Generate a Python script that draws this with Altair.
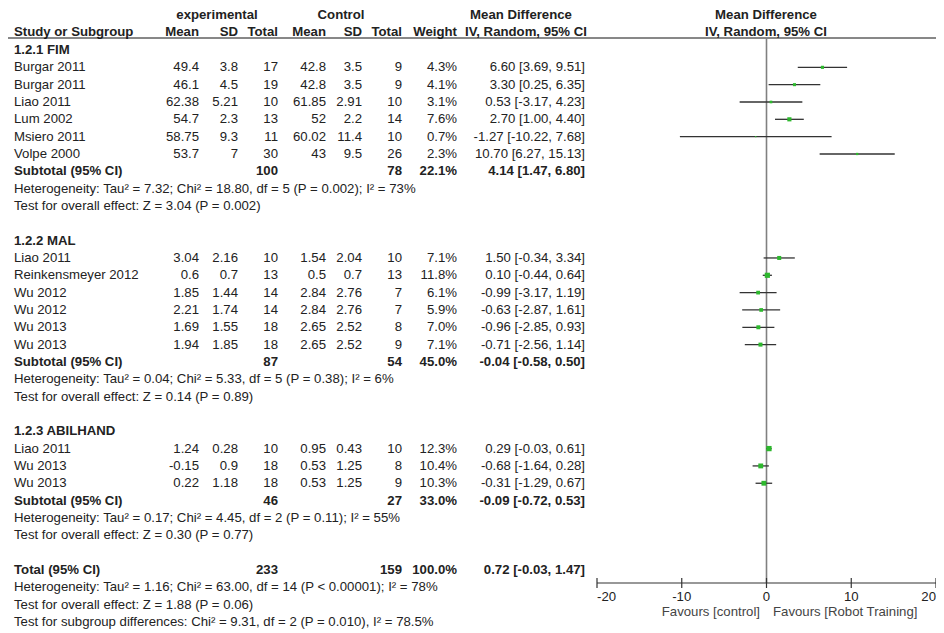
import altair as alt
import pandas as pd

# ---------------- data ----------------
group_names = ["1.2.1 FIM", "1.2.2 MAL", "1.2.3 ABILHAND"]

study_names = [
    ["Burgar 2011", "Burgar 2011", "Liao 2011", "Lum 2002", "Msiero 2011", "Volpe 2000"],
    ["Liao 2011", "Reinkensmeyer 2012", "Wu 2012", "Wu 2012", "Wu 2013", "Wu 2013"],
    ["Liao 2011", "Wu 2013", "Wu 2013"],
]
exp_mean = [[49.4, 46.1, 62.38, 54.7, 58.75, 53.7], [3.04, 0.6, 1.85, 2.21, 1.69, 1.94], [1.24, -0.15, 0.22]]
exp_sd = [[3.8, 4.5, 5.21, 2.3, 9.3, 7], [2.16, 0.7, 1.44, 1.74, 1.55, 1.85], [0.28, 0.9, 1.18]]
exp_n = [[17, 19, 10, 13, 11, 30], [10, 13, 14, 14, 18, 18], [10, 18, 18]]
ctl_mean = [[42.8, 42.8, 61.85, 52, 60.02, 43], [1.54, 0.5, 2.84, 2.84, 2.65, 2.65], [0.95, 0.53, 0.53]]
ctl_sd = [[3.5, 3.5, 2.91, 2.2, 11.4, 9.5], [2.04, 0.7, 2.76, 2.76, 2.52, 2.52], [0.43, 1.25, 1.25]]
ctl_n = [[9, 9, 10, 14, 10, 26], [10, 13, 7, 7, 8, 9], [10, 8, 9]]
weight = [[4.3, 4.1, 3.1, 7.6, 0.7, 2.3], [7.1, 11.8, 6.1, 5.9, 7.0, 7.1], [12.3, 10.4, 10.3]]
md = [[6.60, 3.30, 0.53, 2.70, -1.27, 10.70], [1.50, 0.10, -0.99, -0.63, -0.96, -0.71], [0.29, -0.68, -0.31]]
ci_low = [[3.69, 0.25, -3.17, 1.00, -10.22, 6.27], [-0.34, -0.44, -3.17, -2.87, -2.85, -2.56], [-0.03, -1.64, -1.29]]
ci_high = [[9.51, 6.35, 4.23, 4.40, 7.68, 15.13], [3.34, 0.64, 1.19, 1.61, 0.93, 1.14], [0.61, 0.28, 0.67]]

sub_exp_n = [100, 87, 46]
sub_ctl_n = [78, 54, 27]
sub_weight = [22.1, 45.0, 33.0]
sub_md = [4.14, -0.04, -0.09]
sub_low = [1.47, -0.58, -0.72]
sub_high = [6.80, 0.50, 0.53]
sub_het = [
    "Heterogeneity: Tau\u00b2 = 7.32; Chi\u00b2 = 18.80, df = 5 (P = 0.002); I\u00b2 = 73%",
    "Heterogeneity: Tau\u00b2 = 0.04; Chi\u00b2 = 5.33, df = 5 (P = 0.38); I\u00b2 = 6%",
    "Heterogeneity: Tau\u00b2 = 0.17; Chi\u00b2 = 4.45, df = 2 (P = 0.11); I\u00b2 = 55%",
]
sub_test = [
    "Test for overall effect: Z = 3.04 (P = 0.002)",
    "Test for overall effect: Z = 0.14 (P = 0.89)",
    "Test for overall effect: Z = 0.30 (P = 0.77)",
]

total_exp_n = 233
total_ctl_n = 159
total_weight = 100.0
total_md = 0.72
total_low = -0.03
total_high = 1.47
total_notes = [
    "Heterogeneity: Tau\u00b2 = 1.16; Chi\u00b2 = 63.00, df = 14 (P < 0.00001); I\u00b2 = 78%",
    "Test for overall effect: Z = 1.88 (P = 0.06)",
    "Test for subgroup differences: Chi\u00b2 = 9.31, df = 2 (P = 0.010), I\u00b2 = 78.5%",
]

tick_values = [-20, -10, 0, 10, 20]
favours_left = "Favours [control]"
favours_right = "Favours [Robot Training]"

# ---------------- build tables ----------------
def fmt(v):
    return f"{v:g}"

def ci_txt(m, lo, hi):
    return f"{m:.2f} [{lo:.2f}, {hi:.2f}]"

empty = dict(em="", esd="", en="", cm="", csd="", cn="", w="", ci="")
rows, studies, summaries = [], [], []
r = 0
for g, gname in enumerate(group_names):
    rows.append(dict(row=r, label=gname, bold=True, **empty)); r += 1
    for i, s in enumerate(study_names[g]):
        rows.append(dict(row=r, label=s, bold=False,
                         em=fmt(exp_mean[g][i]), esd=fmt(exp_sd[g][i]), en=str(exp_n[g][i]),
                         cm=fmt(ctl_mean[g][i]), csd=fmt(ctl_sd[g][i]), cn=str(ctl_n[g][i]),
                         w=f"{weight[g][i]:.1f}%", ci=ci_txt(md[g][i], ci_low[g][i], ci_high[g][i])))
        studies.append(dict(row=r, md=md[g][i], lo=ci_low[g][i], hi=ci_high[g][i], w=weight[g][i]))
        r += 1
    rows.append(dict(row=r, label="Subtotal (95% CI)", bold=True, em="", esd="", en=str(sub_exp_n[g]),
                     cm="", csd="", cn=str(sub_ctl_n[g]), w=f"{sub_weight[g]:.1f}%",
                     ci=ci_txt(sub_md[g], sub_low[g], sub_high[g])))
    summaries.append((r, sub_md[g], sub_low[g], sub_high[g])); r += 1
    rows.append(dict(row=r, label=sub_het[g], bold=False, **empty)); r += 1
    rows.append(dict(row=r, label=sub_test[g], bold=False, **empty)); r += 1
    r += 1
rows.append(dict(row=r, label="Total (95% CI)", bold=True, em="", esd="", en=str(total_exp_n),
                 cm="", csd="", cn=str(total_ctl_n), w=f"{total_weight:.1f}%",
                 ci=ci_txt(total_md, total_low, total_high)))
summaries.append((r, total_md, total_low, total_high)); r += 1
for note in total_notes:
    rows.append(dict(row=r, label=note, bold=False, **empty)); r += 1
n_rows = r

rows_df = pd.DataFrame(rows)
studies_df = pd.DataFrame(studies)

dia = []
for k, (rr, m, lo, hi) in enumerate(summaries):
    dia.append(dict(id=k, o=0, x=lo, y1=rr, y2=rr))
    dia.append(dict(id=k, o=1, x=m, y1=rr - 0.4, y2=rr + 0.4))
    dia.append(dict(id=k, o=2, x=hi, y1=rr, y2=rr))
dia_df = pd.DataFrame(dia)

ticks_df = pd.DataFrame({"v": tick_values, "lab": [str(v) for v in tick_values]})
one = pd.DataFrame({"a": [0]})

# ---------------- layout ----------------
W, H = 928, 625
FONT = "Liberation Sans"
FS = 13.2
TXT = "#222222"
ROW0, ROWSTEP = 42, 17.33
yscale = alt.Scale(domain=[0, n_rows - 1], range=[ROW0, ROW0 + ROWSTEP * (n_rows - 1)], nice=False, zero=False)
xscale = alt.Scale(domain=[-20, 20], range=[589, 928], nice=False, zero=False)
Y = alt.Y("row:Q", scale=yscale, axis=None)

layers = []

# table columns
cols = [("label", 6, "left"), ("em", 191, "right"), ("esd", 230, "right"), ("en", 270, "right"),
        ("cm", 318, "right"), ("csd", 354, "right"), ("cn", 394, "right"), ("w", 449, "right"),
        ("ci", 577, "right")]
for field, xp, al in cols:
    for b in (False, True):
        layers.append(
            alt.Chart(rows_df).transform_filter(alt.datum.bold == b)
            .mark_text(align=al, baseline="middle", font=FONT, fontSize=FS,
                       fontWeight="bold" if b else "normal", color=TXT)
            .encode(x=alt.value(xp), y=Y, text=f"{field}:N")
        )

# headers
headers = [
    ("experimental", 209, 7, "center"), ("Control", 333, 7, "center"),
    ("Mean Difference", 513, 7, "center"), ("Mean Difference", 758, 7, "center"),
    ("Study or Subgroup", 6, 24, "left"), ("Mean", 191, 24, "right"), ("SD", 230, 24, "right"),
    ("Total", 270, 24, "right"), ("Mean", 318, 24, "right"), ("SD", 354, 24, "right"),
    ("Total", 394, 24, "right"), ("Weight", 449, 24, "right"),
    ("IV, Random, 95% CI", 518, 24, "center"), ("IV, Random, 95% CI", 758, 24, "center"),
]
for t, xp, yp, al in headers:
    layers.append(
        alt.Chart(pd.DataFrame({"t": [t]}))
        .mark_text(align=al, baseline="middle", font=FONT, fontSize=FS, fontWeight="bold", color=TXT)
        .encode(x=alt.value(xp), y=alt.value(yp), text="t:N")
    )

# header rule
layers.append(alt.Chart(one).mark_rule(color="#111111", strokeWidth=1)
              .encode(x=alt.value(0), x2=alt.value(W), y=alt.value(30)))

# zero line
layers.append(alt.Chart(pd.DataFrame({"z": [0]})).mark_rule(color="#808080", strokeWidth=1.6)
              .encode(x=alt.X("z:Q", scale=xscale, axis=None), y=alt.value(30), y2=alt.value(575)))

# CI lines
layers.append(alt.Chart(studies_df).mark_rule(color="#333333", strokeWidth=1.3)
              .encode(x=alt.X("lo:Q", scale=xscale, axis=None), x2="hi:Q", y=Y))

# squares
layers.append(alt.Chart(studies_df).mark_square(filled=True, color="#2db82d", opacity=1)
              .encode(x=alt.X("md:Q", scale=xscale, axis=None), y=Y,
                      size=alt.Size("w:Q", scale=alt.Scale(domain=[0, 12.3], range=[0, 28]), legend=None)))

# diamonds
layers.append(alt.Chart(dia_df).mark_area(color="black", orient="vertical", opacity=1)
              .encode(x=alt.X("x:Q", scale=xscale, axis=None),
                      y=alt.Y("y1:Q", scale=yscale, axis=None), y2="y2:Q",
                      detail="id:N", order="o:Q"))

# custom axis
layers.append(alt.Chart(pd.DataFrame({"a": [tick_values[0]], "b": [tick_values[-1]]}))
              .mark_rule(color="#333333", strokeWidth=1.2)
              .encode(x=alt.X("a:Q", scale=xscale, axis=None), x2="b:Q", y=alt.value(575)))
layers.append(alt.Chart(ticks_df).mark_rule(color="#333333", strokeWidth=1.2)
              .encode(x=alt.X("v:Q", scale=xscale, axis=None), y=alt.value(570), y2=alt.value(580)))
lo_t, hi_t = tick_values[0], tick_values[-1]
for flt, al in [(alt.datum.v == lo_t, "left"), (alt.datum.v == hi_t, "right"),
                ((alt.datum.v != lo_t) & (alt.datum.v != hi_t), "center")]:
    layers.append(alt.Chart(ticks_df).transform_filter(flt)
                  .mark_text(align=al, baseline="middle", font=FONT, fontSize=FS, color=TXT)
                  .encode(x=alt.X("v:Q", scale=xscale, axis=None), y=alt.value(589), text="lab:N"))

layers.append(alt.Chart(pd.DataFrame({"t": [favours_left]}))
              .mark_text(align="right", baseline="middle", font=FONT, fontSize=FS, color="#444444")
              .encode(x=alt.value(752), y=alt.value(604), text="t:N"))
layers.append(alt.Chart(pd.DataFrame({"t": [favours_right]}))
              .mark_text(align="left", baseline="middle", font=FONT, fontSize=FS, color="#444444")
              .encode(x=alt.value(765), y=alt.value(604), text="t:N"))

chart = alt.layer(*layers).properties(
    width=W, height=H, padding=0, autosize=alt.AutoSizeParams(type="none")
).configure_view(stroke=None)

chart.save("out.html", embed_options={"renderer": "svg", "actions": False})
